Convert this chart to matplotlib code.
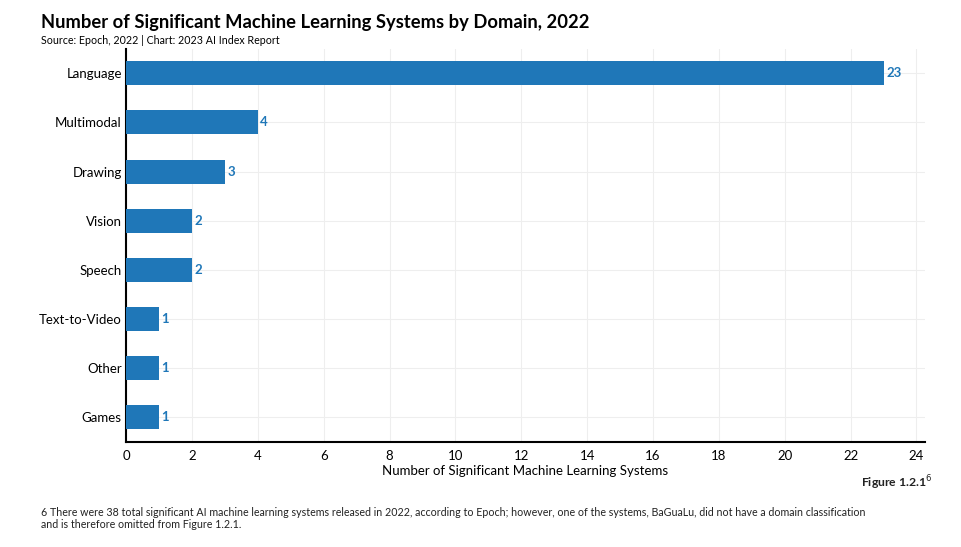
import matplotlib
matplotlib.use("Agg")
import matplotlib.pyplot as plt

categories = ["Language", "Multimodal", "Drawing", "Vision", "Speech", "Text-to-Video", "Other", "Games"]
values = [23, 4, 3, 2, 2, 1, 1, 1]
xticks = list(range(0, 25, 2))

plt.rcParams['font.family'] = ['Lato', 'DejaVu Sans']

fig = plt.figure(figsize=(9.62, 5.47), dpi=100)
ax = fig.add_axes([0.131, 0.192, 0.8306, 0.719])

color = "#1f77b8"
y = list(range(len(categories)))
ax.barh(y, values, height=0.49, color=color, zorder=3)
for yi, v in zip(y, values):
    ax.text(v + 0.08, yi, str(v), va="center", ha="left", color=color, fontsize=9.5, fontweight="bold")

ax.set_yticks(y)
ax.set_yticklabels(categories, fontsize=9.5)
ax.set_ylim(len(categories) - 0.5, -0.5)
ax.set_xlim(0, 24.26)
ax.set_xticks(xticks)
ax.set_xticklabels([str(t) for t in xticks], fontsize=9.5)
ax.tick_params(axis="y", length=0, pad=3)
ax.tick_params(axis="x", length=0, pad=6)
ax.grid(True, color="#eeeeee", linewidth=0.8, zorder=0)
for s in ["top", "right"]:
    ax.spines[s].set_visible(False)
for s in ["left", "bottom"]:
    ax.spines[s].set_linewidth(1.5)
    ax.spines[s].set_color("black")
ax.set_xlabel("Number of Significant Machine Learning Systems", fontsize=9.5, labelpad=2)

fig.text(0.043, 0.958, "Number of Significant Machine Learning Systems by Domain, 2022",
         fontsize=13.25, fontweight="bold", va="center", ha="left")
fig.text(0.043, 0.926, "Source: Epoch, 2022 | Chart: 2023 AI Index Report",
         fontsize=7.7, va="center", ha="left")
fig.text(0.969, 0.117, "Figure 1.2.1$^{6}$", fontsize=8.8, fontweight="bold", va="center", ha="right",
         color="#222222")
fig.text(0.043, 0.052,
         "6 There were 38 total significant AI machine learning systems released in 2022, according to Epoch; however, one of the systems, BaGuaLu, did not have a domain classification\nand is therefore omitted from Figure 1.2.1.",
         fontsize=7.7, va="center", ha="left", linespacing=1.15, color="#222222")

fig.savefig("out.png", dpi=100)
